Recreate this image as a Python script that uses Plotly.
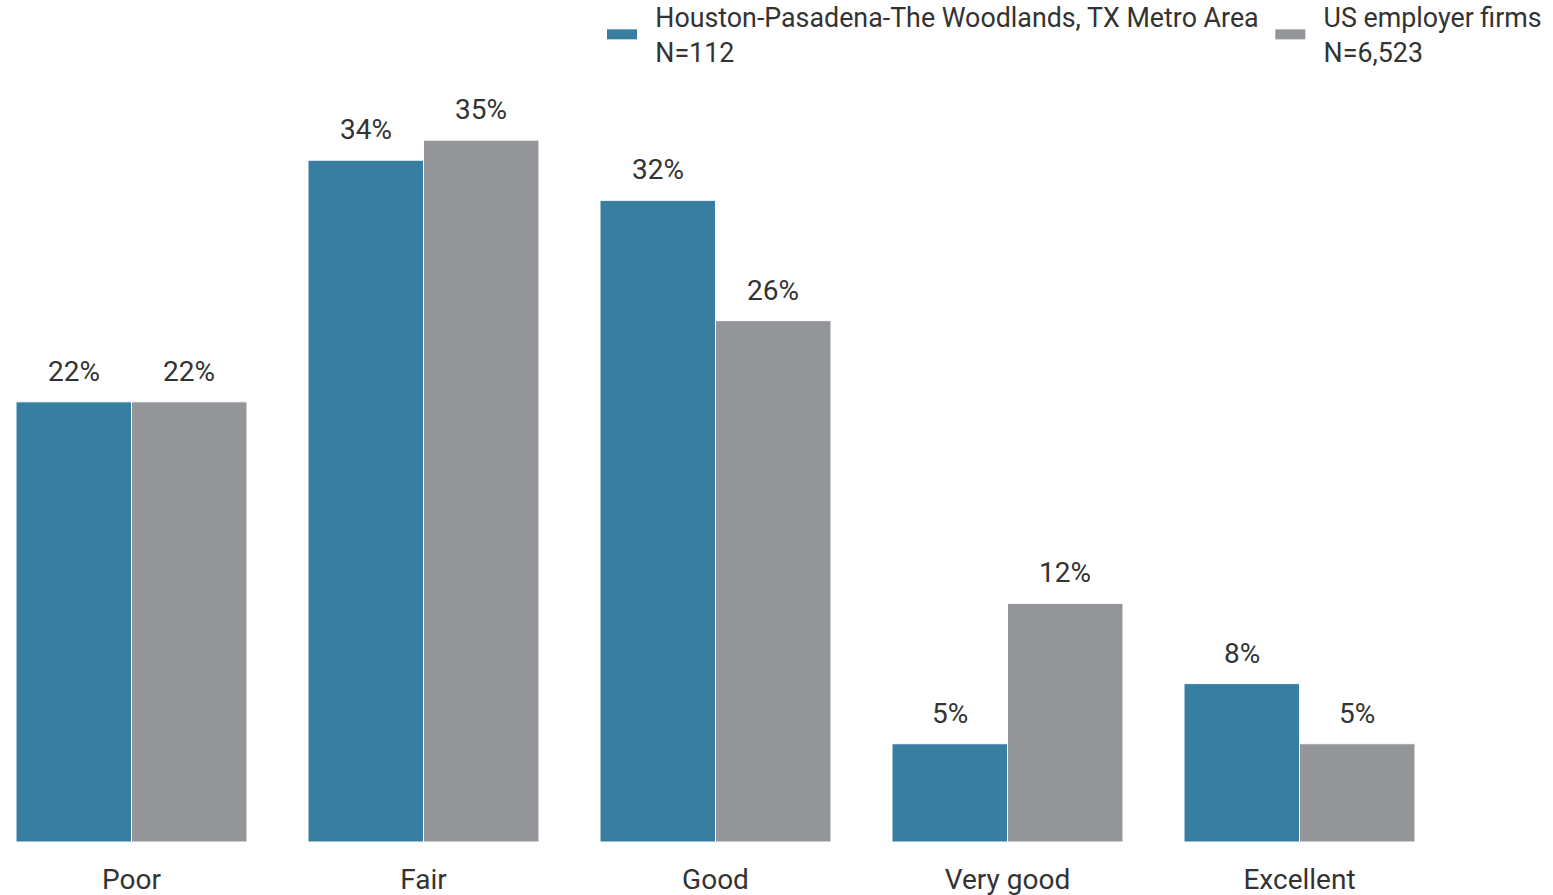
import plotly.graph_objects as go

categories = ["Poor", "Fair", "Good", "Very good", "Excellent"]
houston_values = [21.95, 34.0, 32.0, 4.9, 7.9]
us_values = [21.95, 35.0, 26.0, 11.9, 4.9]
series_names = [
    "Houston-Pasadena-The Woodlands, TX Metro Area<br>N=112",
    "US employer firms<br>N=6,523",
]
colors = ["#387EA1", "#939598"]

FONT = "Roboto, 'Open Sans', sans-serif"
TEXT_COLOR = "#333333"

x_idx = list(range(len(categories)))
fig = go.Figure()

all_series = [houston_values, us_values]
for name, vals, col in zip(series_names, all_series, colors):
    fig.add_trace(go.Bar(
        x=x_idx, y=vals, name=name, marker=dict(color=col, line=dict(color="white", width=1)),
        showlegend=False, hoverinfo="skip",
    ))

# legend entries (wide swatches)
PAD = "\u00a0\u00a0"
for k, (name, col) in enumerate(zip(series_names, colors)):
    parts = [PAD + part for part in name.split("<br>")]
    if k == 0:
        parts[0] = parts[0] + "\u00a0"
    label = "<br>".join(parts)
    fig.add_trace(go.Scatter(
        x=[None], y=[None], mode="lines", name=label,
        line=dict(color=col, width=12), showlegend=True,
    ))

bargap = 0.209
bar_w = (1 - bargap) / 2
offsets = [-bar_w / 2, bar_w / 2]
annotations = []
for vals, off in zip(all_series, offsets):
    for i, v in enumerate(vals):
        annotations.append(dict(
            x=i + off, y=v, xref="x", yref="y", text=f"{round(v):.0f}%",
            showarrow=False, yanchor="bottom", yshift=12,
            font=dict(size=28, color=TEXT_COLOR, family=FONT),
        ))

px_per_unit = 292.0
left_px = 131.5
width = 1553
top_margin = 80
plot_h = 842 - top_margin
fig.update_layout(
    width=width, height=895,
    barmode="group", bargap=bargap, bargroupgap=0.0,
    plot_bgcolor="white", paper_bgcolor="white",
    margin=dict(l=0, r=0, t=top_margin, b=53, autoexpand=False),
    font=dict(family=FONT, color=TEXT_COLOR, size=24),
    xaxis=dict(
        tickmode="array", tickvals=x_idx, ticktext=categories,
        range=[-left_px / px_per_unit, (width - left_px) / px_per_unit],
        showgrid=False, zeroline=False, showline=False,
        ticks="outside", ticklen=12, tickcolor="rgba(0,0,0,0)",
        tickfont=dict(size=28, color=TEXT_COLOR, family=FONT),
    ),
    yaxis=dict(range=[0, 38.0], visible=False, showgrid=False, zeroline=False),
    legend=dict(
        orientation="h", x=1 - 6 / width, xanchor="right",
        y=1 + (top_margin + 7) / plot_h, yanchor="top",
        font=dict(size=26.8, color=TEXT_COLOR, family=FONT),
        itemwidth=30, bgcolor="rgba(0,0,0,0)", valign="middle",
    ),
    annotations=annotations,
)

fig.write_html(
    "out.html",
    config={"displayModeBar": False},
    post_script="document.body.style.margin='0';document.body.style.overflow='hidden';",
)
